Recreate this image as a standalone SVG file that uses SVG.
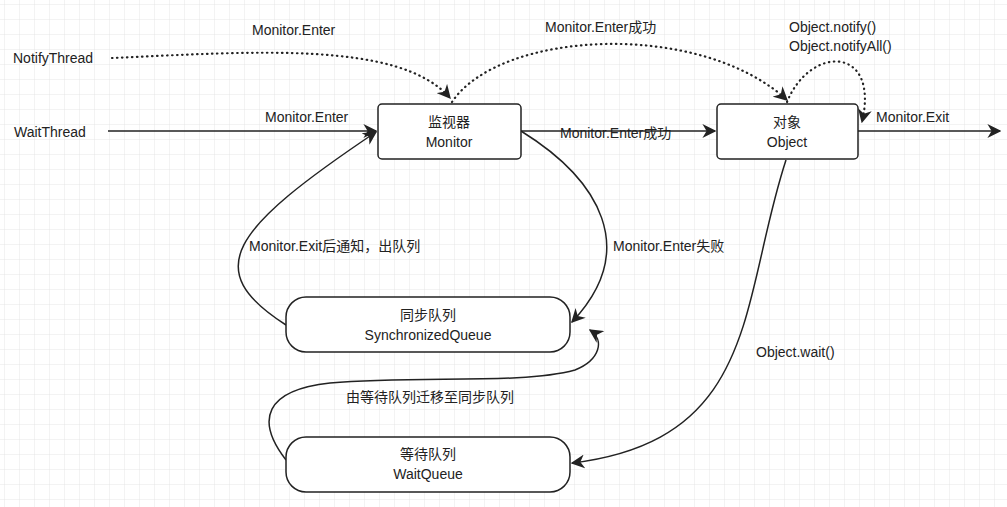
<svg xmlns="http://www.w3.org/2000/svg" width="1007" height="507" viewBox="0 0 1007 507">
<defs>
<pattern id="g" width="15" height="15" patternUnits="userSpaceOnUse" x="5" y="5"><path d="M15 0V15M0 15H15" fill="none" stroke="#e6e6e6" stroke-width="1"/></pattern>
<marker id="b" viewBox="0 0 10 10" refX="9" refY="5" markerWidth="14" markerHeight="14" markerUnits="userSpaceOnUse" orient="auto"><path d="M0 0L10 5L0 10L3 5Z" fill="#222"/></marker>
</defs>
<style>
text{font-family:"Liberation Sans","Noto Sans CJK SC",sans-serif;font-size:14px;fill:#222}
.c{text-anchor:middle}
.n{fill:#fff;stroke:#222;stroke-width:1.5}
.l{fill:none;stroke:#222;stroke-width:1.5;marker-end:url(#b)}
.d{fill:none;stroke:#222;stroke-width:2.2;stroke-dasharray:0.5 4.5;stroke-linecap:round;marker-end:url(#b)}
</style>
<rect width="1007" height="507" fill="#fff"/>
<rect width="1007" height="507" fill="url(#g)"/>
<g id="connectors">
<path class="d" d="M112 58C250 52 400 40 450 98"/>
<path class="d" d="M452 102C500 30 700 20 787 100"/>
<path class="d" d="M787 102C810 45 880 45 862 122"/>
<path class="l" d="M108 131H376"/>
<path class="l" d="M521 131H715"/>
<path class="l" d="M858 131H1000"/>
<path class="l" d="M521 131C600 180 640 250 572 322"/>
<path class="l" d="M286 325C200 270 230 230 376 132"/>
<path class="l" d="M786 160C740 300 760 440 572 463"/>
<path class="l" d="M286 460C255 420 265 390 330 383C420 375 520 385 575 370C600 360 605 340 590 330"/>
<text x="265" y="122">Monitor.Enter</text>
<text x="252" y="35">Monitor.Enter</text>
<text x="545" y="32">Monitor.Enter成功</text>
<text x="560" y="138">Monitor.Enter成功</text>
<text x="876" y="122">Monitor.Exit</text>
<text x="789" y="32">Object.notify()</text>
<text x="789" y="51">Object.notifyAll()</text>
<text x="249" y="251">Monitor.Exit后通知，出队列</text>
<text x="613" y="251">Monitor.Enter失败</text>
<text x="756" y="357">Object.wait()</text>
<text x="346" y="402">由等待队列迁移至同步队列</text>
<text x="13" y="63">NotifyThread</text>
<text x="14" y="137">WaitThread</text>
</g>
<g id="monitor"><rect class="n" x="378" y="104" width="143" height="55" rx="4"/><text class="c" x="449" y="127">监视器</text><text class="c" x="449" y="147">Monitor</text></g>
<g id="object"><rect class="n" x="717" y="104" width="141" height="55" rx="4"/><text class="c" x="787" y="127">对象</text><text class="c" x="787" y="147">Object</text></g>
<g id="syncq"><rect class="n" x="286" y="297" width="284" height="55" rx="20"/><text class="c" x="428" y="320">同步队列</text><text class="c" x="428" y="340">SynchronizedQueue</text></g>
<g id="waitq"><rect class="n" x="286" y="437" width="284" height="55" rx="20"/><text class="c" x="428" y="459">等待队列</text><text class="c" x="428" y="479">WaitQueue</text></g>
</svg>
